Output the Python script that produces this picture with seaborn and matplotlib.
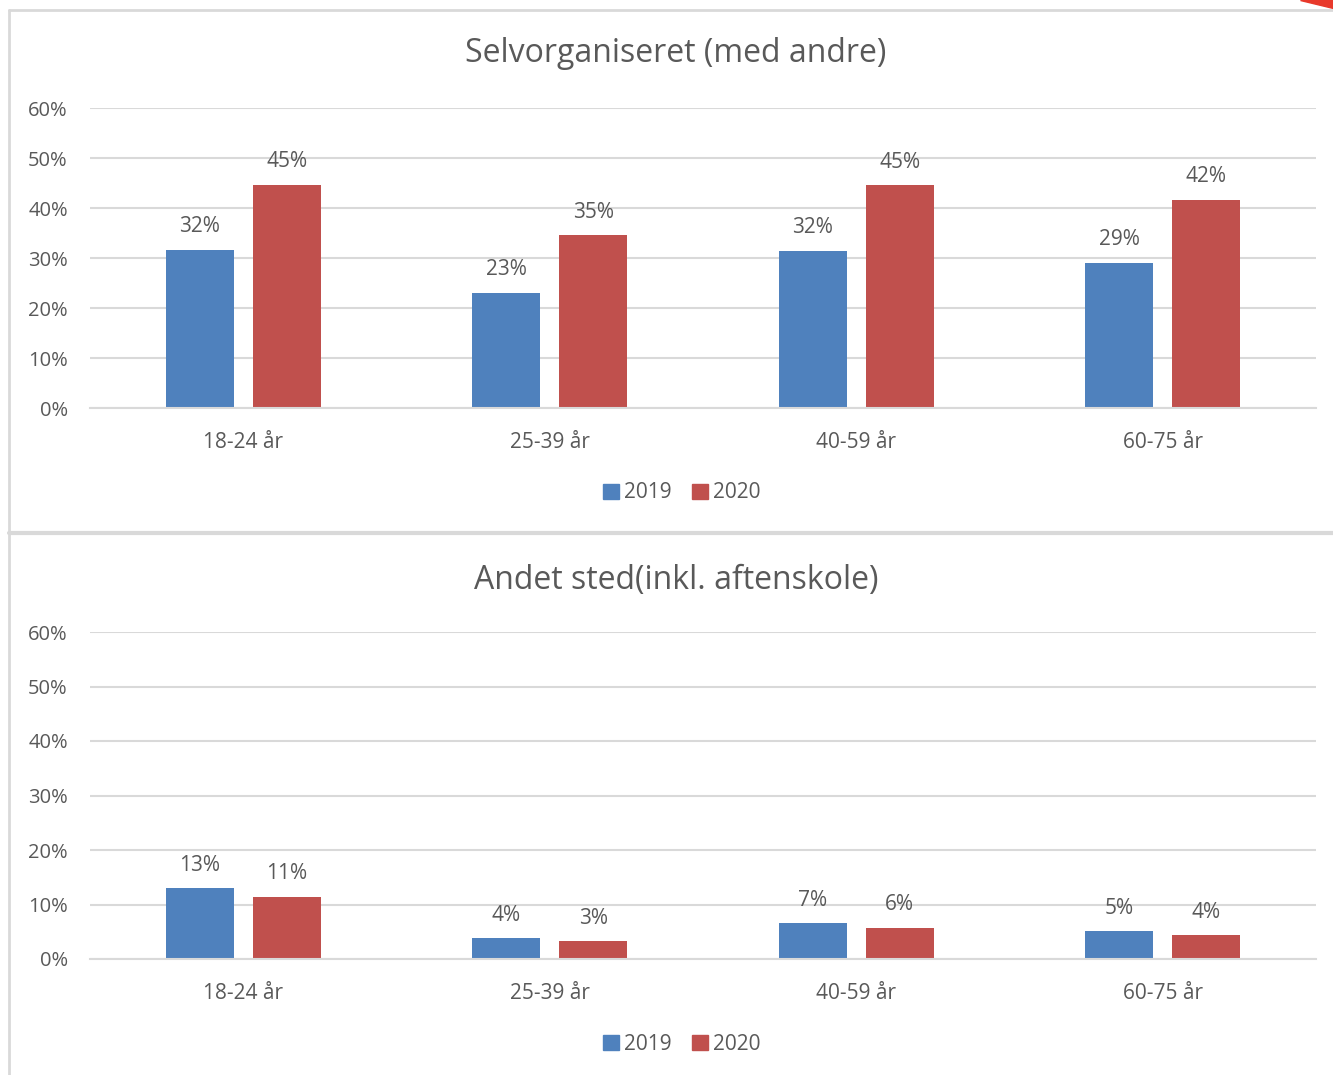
import pandas as pd
import seaborn as sns
import matplotlib.pyplot as plt
from matplotlib.patches import Polygon
from matplotlib.lines import Line2D

sns.set_style("white")
plt.rcParams['font.family'] = ['Open Sans', 'DejaVu Sans']

ages = ['18-24 år', '25-39 år', '40-59 år', '60-75 år']
years = ['2019', '2020']
# values in percent
selv_2019 = [31.6, 23.1, 31.5, 29.1]
selv_2020 = [44.7, 34.6, 44.6, 41.7]
andet_2019 = [13.0, 3.8, 6.6, 5.1]
andet_2020 = [11.4, 3.3, 5.7, 4.4]

titles = ['Selvorganiseret (med andre)', 'Andet sted(inkl. aftenskole)']
series = [(selv_2019, selv_2020), (andet_2019, andet_2020)]

colors = ['#4F81BD', '#C0504D']
text_col = '#595959'
grid_col = '#D9D9D9'

W, H = 1333, 1075
fig = plt.figure(figsize=(W / 100, H / 100), dpi=100)

# axes rectangles in pixels: left, top, right, bottom
boxes = [(90, 108, 1316, 408), (90, 632, 1316, 959)]
title_y = [54, 580]
legend_y = [493, 1044]

for i, (v19, v20) in enumerate(series):
    l, t, r, b = boxes[i]
    ax = fig.add_axes([l / W, 1 - b / H, (r - l) / W, (b - t) / H])
    df = pd.DataFrame({
        'age': ages * 2,
        'year': ['2019'] * 4 + ['2020'] * 4,
        'value': list(v19) + list(v20),
    })
    sns.barplot(data=df, x='age', y='value', hue='year', palette=colors,
                width=0.568, gap=0.22, ax=ax, legend=False, saturation=1,
                linewidth=0)
    ax.set_ylim(0, 60)
    ax.set_yticks(range(0, 61, 10))
    ax.set_yticklabels([f'{v}%' for v in range(0, 61, 10)])
    ax.yaxis.grid(True, color=grid_col, linewidth=1.5)
    ax.set_axisbelow(True)
    for s in ['top', 'right', 'left']:
        ax.spines[s].set_visible(False)
    ax.spines['bottom'].set_color(grid_col)
    ax.spines['bottom'].set_linewidth(1.5)
    ax.tick_params(axis='y', length=0, pad=16, labelsize=14.5, labelcolor=text_col)
    ax.tick_params(axis='x', length=0, pad=17, labelsize=15, labelcolor=text_col)
    ax.set_xlabel('')
    ax.set_ylabel('')
    for cont in ax.containers:
        ax.bar_label(cont, labels=[f'{v:.0f}%' for v in cont.datavalues],
                     padding=9, fontsize=15, color=text_col)
    fig.text(676 / W, 1 - title_y[i] / H, titles[i], ha='center', va='center',
             fontsize=23, color=text_col)
    handles = [plt.Rectangle((0, 0), 1, 1, color=c) for c in colors]
    fig.legend(handles, years, loc='center', bbox_to_anchor=(682 / W, 1 - legend_y[i] / H),
               ncol=2, frameon=False, fontsize=15, labelcolor=text_col,
               handlelength=0.75, handleheight=0.75, handletextpad=0.25, columnspacing=1.0)

# chart frames
frame_col = '#D9D9D9'
fig.add_artist(Line2D([9 / W, 1], [1 - 10 / H, 1 - 10 / H], color=frame_col, lw=2))
fig.add_artist(Line2D([9 / W, 1], [1 - 533 / H, 1 - 533 / H], color=frame_col, lw=3))
fig.add_artist(Line2D([9 / W, 9 / W], [1 - 10 / H, 0], color=frame_col, lw=2))
# red corner decoration
fig.add_artist(Polygon([(1300 / W, 1), (1, 1), (1, 1 - 8 / H)], closed=True,
                       color='#E8392B', transform=fig.transFigure))

fig.savefig('out.png', dpi=100, facecolor='white')
